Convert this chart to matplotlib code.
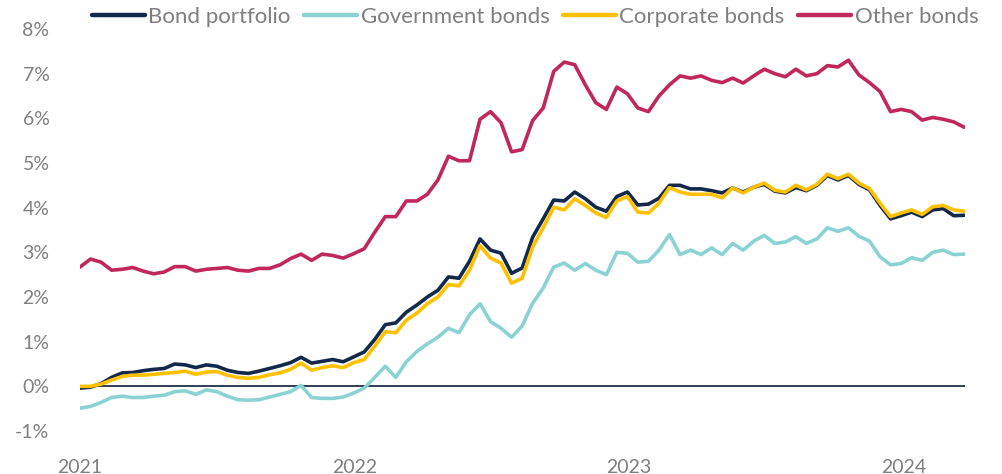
import matplotlib
matplotlib.use("Agg")
import matplotlib.pyplot as plt
import pandas as pd
import numpy as np

plt.rcParams['font.family'] = ['Lato', 'DejaVu Sans']

dates = pd.date_range("2021-01-01", periods=85, freq="14D")

bond_portfolio = [
    -0.04, -0.02, 0.06, 0.20, 0.30, 0.31, 0.35, 0.38, 0.40, 0.50,
    0.48, 0.42, 0.48, 0.45, 0.36, 0.31, 0.29, 0.34, 0.40, 0.46,
    0.53, 0.65, 0.52, 0.56, 0.60, 0.55, 0.66, 0.77, 1.05, 1.38,
    1.42, 1.66, 1.82, 2.00, 2.15, 2.45, 2.42, 2.80, 3.30, 3.05,
    2.98, 2.53, 2.65, 3.34, 3.75, 4.17, 4.15, 4.35, 4.20, 4.01,
    3.92, 4.25, 4.35, 4.06, 4.08, 4.21, 4.50, 4.50, 4.42, 4.42,
    4.38, 4.33, 4.44, 4.35, 4.46, 4.52, 4.37, 4.33, 4.45, 4.38,
    4.50, 4.72, 4.62, 4.72, 4.52, 4.40, 4.05, 3.75, 3.82, 3.90,
    3.80, 3.95, 3.98, 3.82, 3.83,
]

government_bonds = [
    -0.49, -0.45, -0.36, -0.25, -0.22, -0.25, -0.25, -0.22, -0.20, -0.12,
    -0.10, -0.18, -0.08, -0.12, -0.22, -0.30, -0.31, -0.30, -0.24, -0.18,
    -0.12, 0.02, -0.25, -0.27, -0.27, -0.24, -0.15, -0.04, 0.20, 0.45,
    0.20, 0.55, 0.78, 0.95, 1.10, 1.30, 1.20, 1.60, 1.85, 1.45,
    1.30, 1.10, 1.35, 1.86, 2.20, 2.67, 2.76, 2.60, 2.75, 2.60,
    2.50, 3.00, 2.98, 2.78, 2.80, 3.05, 3.40, 2.95, 3.05, 2.95,
    3.10, 2.95, 3.20, 3.05, 3.25, 3.38, 3.20, 3.23, 3.35, 3.20,
    3.30, 3.55, 3.47, 3.55, 3.36, 3.25, 2.90, 2.72, 2.75, 2.88,
    2.82, 3.00, 3.05, 2.95, 2.96,
]

corporate_bonds = [
    0.00, 0.00, 0.05, 0.14, 0.22, 0.25, 0.25, 0.27, 0.29, 0.31,
    0.34, 0.27, 0.32, 0.33, 0.25, 0.20, 0.18, 0.20, 0.26, 0.30,
    0.38, 0.52, 0.36, 0.42, 0.46, 0.42, 0.53, 0.60, 0.90, 1.22,
    1.20, 1.48, 1.64, 1.85, 2.00, 2.28, 2.25, 2.60, 3.15, 2.87,
    2.76, 2.31, 2.42, 3.12, 3.55, 4.01, 3.95, 4.20, 4.05, 3.88,
    3.78, 4.15, 4.25, 3.90, 3.88, 4.10, 4.45, 4.35, 4.30, 4.30,
    4.30, 4.22, 4.44, 4.33, 4.46, 4.55, 4.39, 4.35, 4.50, 4.40,
    4.52, 4.75, 4.65, 4.75, 4.55, 4.43, 4.10, 3.80, 3.88, 3.95,
    3.85, 4.02, 4.05, 3.95, 3.92,
]

other_bonds = [
    2.67, 2.85, 2.78, 2.60, 2.62, 2.66, 2.58, 2.52, 2.56, 2.68,
    2.68, 2.58, 2.62, 2.64, 2.66, 2.60, 2.58, 2.64, 2.64, 2.72,
    2.86, 2.96, 2.82, 2.96, 2.93, 2.87, 2.97, 3.08, 3.45, 3.80,
    3.80, 4.15, 4.15, 4.30, 4.62, 5.15, 5.05, 5.05, 5.98, 6.15,
    5.90, 5.25, 5.30, 5.95, 6.23, 7.05, 7.26, 7.20, 6.75, 6.35,
    6.20, 6.70, 6.55, 6.23, 6.15, 6.50, 6.75, 6.95, 6.90, 6.95,
    6.85, 6.80, 6.90, 6.79, 6.95, 7.10, 7.00, 6.93, 7.10, 6.95,
    7.00, 7.18, 7.15, 7.30, 6.97, 6.80, 6.60, 6.15, 6.20, 6.15,
    5.96, 6.02, 5.98, 5.92, 5.80,
]

series_names = ["Bond portfolio", "Government bonds", "Corporate bonds", "Other bonds"]
series_values = [bond_portfolio, government_bonds, corporate_bonds, other_bonds]
series_colors = ["#13294b", "#8bd3d2", "#ffc000", "#c0285a"]

y_ticks = [-1, 0, 1, 2, 3, 4, 5, 6, 7, 8]
x_tick_years = [2021, 2022, 2023, 2024]

fig = plt.figure(figsize=(10.02, 4.74), dpi=100)
ax = fig.add_axes([80 / 1002, 43 / 474, 885 / 1002, 402 / 474])

ax.axhline(0, color="#1f3044", lw=1.3, zorder=1)
for name, vals, col in zip(series_names, series_values, series_colors):
    ax.plot(dates, vals, color=col, lw=2.6, label=name, zorder=2,
            solid_joinstyle="round", solid_capstyle="round")

ax.set_ylim(-1, 8)
ax.set_yticks(y_ticks)
ax.set_yticklabels([f"{t}%" for t in y_ticks])
ax.set_xlim(pd.Timestamp("2021-01-01"), dates[-1] + pd.Timedelta(days=1))
ax.set_xticks([pd.Timestamp(f"{y}-01-01") for y in x_tick_years])
ax.set_xticklabels([str(y) for y in x_tick_years])

for s in ax.spines.values():
    s.set_visible(False)
ax.tick_params(axis="both", length=0, colors="#7f7f7f", labelsize=14)
ax.tick_params(axis="y", pad=22)
ax.tick_params(axis="x", pad=20)

leg = fig.legend(loc="center", bbox_to_anchor=(535 / 1002, 1 - 17 / 474), ncol=4,
                 frameon=False, fontsize=16, handlelength=2.4, handletextpad=0.15,
                 columnspacing=0.6, labelcolor="#7f7f7f")
for line in leg.get_lines():
    line.set_linewidth(3.2)

fig.savefig("out.png", dpi=100)
